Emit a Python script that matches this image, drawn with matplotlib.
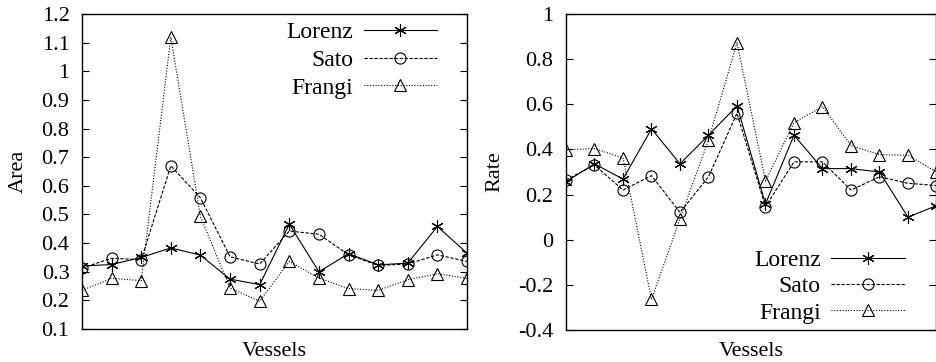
import matplotlib
matplotlib.use("Agg")
import matplotlib.pyplot as plt
import numpy as np

plt.rcParams['font.family'] = ['Liberation Serif', 'DejaVu Serif']

vessels = list(range(1, 15))

area_lorenz = [0.32, 0.325, 0.35, 0.383, 0.358, 0.274, 0.255, 0.466, 0.30, 0.363, 0.324, 0.33, 0.458, 0.365]
area_sato   = [0.313, 0.347, 0.342, 0.67, 0.558, 0.352, 0.327, 0.442, 0.431, 0.359, 0.322, 0.327, 0.359, 0.336]
area_frangi = [0.235, 0.277, 0.269, 1.119, 0.493, 0.243, 0.197, 0.336, 0.278, 0.241, 0.235, 0.272, 0.293, 0.277]

rate_lorenz = [0.257, 0.336, 0.269, 0.491, 0.336, 0.463, 0.593, 0.158, 0.463, 0.315, 0.315, 0.30, 0.10, 0.151]
rate_sato   = [0.265, 0.331, 0.220, 0.284, 0.121, 0.279, 0.560, 0.147, 0.345, 0.345, 0.220, 0.279, 0.25, 0.24]
rate_frangi = [0.398, 0.404, 0.362, -0.264, 0.093, 0.442, 0.873, 0.260, 0.519, 0.590, 0.417, 0.377, 0.374, 0.300]

area_ticks = [0.1, 0.2, 0.3, 0.4, 0.5, 0.6, 0.7, 0.8, 0.9, 1.0, 1.1, 1.2]
area_ticklabels = ['0.1', '0.2', '0.3', '0.4', '0.5', '0.6', '0.7', '0.8', '0.9', '1', '1.1', '1.2']
rate_ticks = [-0.4, -0.2, 0, 0.2, 0.4, 0.6, 0.8, 1.0]
rate_ticklabels = ['-0.4', '-0.2', '0', '0.2', '0.4', '0.6', '0.8', '1']

fig = plt.figure(figsize=(9.37, 3.62), dpi=100)
ax1 = fig.add_axes([82/937, 1-329/362, (467-82)/937, (329-14)/362])
ax2 = fig.add_axes([566/937, 1-330/362, (936.5-566)/937, (330-14)/362])

FS = 16
LFS = 17
lw = 0.8
styles = [
    dict(label='Lorenz', linestyle='-', marker=(6, 2, 0), markersize=9),
    dict(label='Sato', linestyle=(0, (3, 1.5)), marker='o', markersize=8, markerfacecolor='none'),
    dict(label='Frangi', linestyle=(0, (1, 1.5)), marker='^', markersize=8, markerfacecolor='none'),
]

def draw(ax, series, ticks, ticklabels, ylim, ylabel, ylabelpad, legend_kw, ls):
    for s, st in zip(series, styles):
        ax.plot(vessels, s, color='black', linewidth=lw, markeredgewidth=0.8, **st)
    ax.set_xlim(1, 14)
    ax.set_ylim(*ylim)
    ax.set_yticks(ticks)
    ax.set_yticklabels(ticklabels, fontsize=FS)
    ax.set_xticks([])
    ax.tick_params(axis='y', direction='in', left=True, right=True, length=5, width=0.8, pad=9)
    ax.set_xlabel('Vessels', fontsize=FS, labelpad=9)
    ax.set_ylabel(ylabel, fontsize=FS, labelpad=ylabelpad)
    for sp in ax.spines.values():
        sp.set_linewidth(1.0)
    ax.legend(frameon=False, markerfirst=False, numpoints=1, fontsize=LFS,
              handlelength=3.1, handletextpad=0.45, labelspacing=ls, borderpad=0,
              borderaxespad=0, **legend_kw)

draw(ax1, [area_lorenz, area_sato, area_frangi], area_ticks, area_ticklabels,
     (0.1, 1.2), 'Area', 10, dict(loc='upper right', bbox_to_anchor=(0.922, 0.975)), 0.26)
draw(ax2, [rate_lorenz, rate_sato, rate_frangi], rate_ticks, rate_ticklabels,
     (-0.4, 1.0), 'Rate', 10, dict(loc='lower right', bbox_to_anchor=(0.914, 0.02)), 0.2)

fig.savefig('out.png', dpi=100)
